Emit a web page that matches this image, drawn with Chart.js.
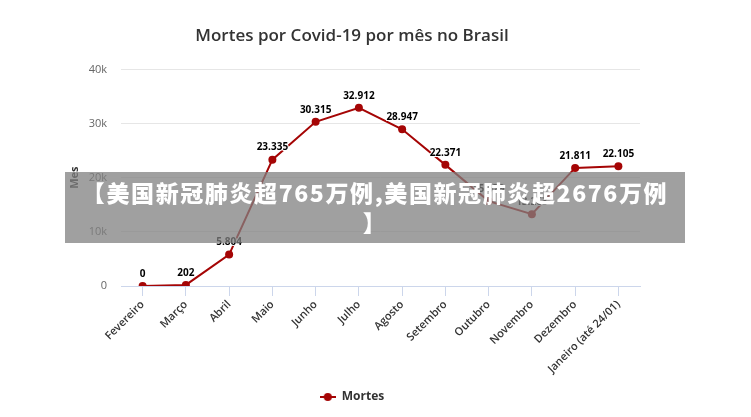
<!DOCTYPE html>
<html>
<head>
<meta charset="utf-8">
<script src="https://cdn.jsdelivr.net/npm/chart.js@4.4.1/dist/chart.umd.min.js"></script>
<style>
  html, body { margin: 0; padding: 0; background: #fff; }
  #wrap { position: relative; width: 751px; height: 417px; }
  #faixa {
    position: absolute; left: 65px; top: 172px; width: 620px; height: 71px;
    background: rgba(128, 128, 128, 0.75);
    color: #fff; font-family: "Noto Sans CJK SC", sans-serif; font-weight: 900;
    font-size: 23px; line-height: 30px; letter-spacing: 1.6px;
    text-align: center; padding-top: 5px; box-sizing: border-box;
  }
</style>
</head>
<body>
<div id="wrap">
  <canvas id="chart-mortes" width="751" height="417"></canvas>
  <div id="faixa">【美国新冠肺炎超765万例,美国新冠肺炎超2676万例<br>】</div>
</div>
<script>
// Dados
const meses = ['Fevereiro', 'Março', 'Abril', 'Maio', 'Junho', 'Julho', 'Agosto',
               'Setembro', 'Outubro', 'Novembro', 'Dezembro', 'Janeiro (até 24/01)'];
const mortes = [0, 202, 5804, 23335, 30315, 32912, 28947, 22371, 15679, 13263, 21811, 22105];
const ticksY = [0, 10000, 20000, 30000, 40000];

const vermelho = '#a50505';

// formata 23335 -> "23.335"
function formataPt(v) {
    return String(v).replace(/\B(?=(\d{3})+(?!\d))/g, '.');
}

// Símbolo da legenda: linha com bolinha
const simbolo = document.createElement('canvas');
simbolo.width = 16; simbolo.height = 10;
(function() {
    const c = simbolo.getContext('2d');
    c.strokeStyle = vermelho; c.lineWidth = 2;
    c.beginPath(); c.moveTo(0, 5); c.lineTo(16, 5); c.stroke();
    c.fillStyle = vermelho;
    c.beginPath(); c.arc(8, 5, 4, 0, Math.PI * 2); c.fill();
})();

// Rótulos de dados acima dos pontos
const rotulos = {
    id: 'rotulos',
    afterDatasetsDraw(chart) {
        const ctx = chart.ctx;
        const meta = chart.getDatasetMeta(0);
        ctx.save();
        ctx.font = 'bold 10px "Open Sans", sans-serif';
        ctx.textAlign = 'center';
        ctx.textBaseline = 'middle';
        ctx.lineJoin = 'round';
        meta.data.forEach((pt, i) => {
            const txt = formataPt(mortes[i]);
            ctx.strokeStyle = '#fff';
            ctx.lineWidth = 2;
            ctx.strokeText(txt, pt.x, pt.y - 12);
            ctx.fillStyle = '#000';
            ctx.fillText(txt, pt.x, pt.y - 12);
        });
        ctx.restore();
    }
};

new Chart(document.getElementById('chart-mortes'), {
    type: 'line',
    data: {
        labels: meses,
        datasets: [{
            label: 'Mortes',
            data: mortes,
            borderColor: vermelho,
            backgroundColor: vermelho,
            borderWidth: 2,
            pointRadius: 4,
            pointHoverRadius: 4,
            pointBackgroundColor: vermelho,
            pointBorderWidth: 0,
            tension: 0
        }]
    },
    options: {
        responsive: false,
        animation: false,
        layout: { padding: { left: 64, right: 111, top: 0, bottom: 4 } },
        plugins: {
            title: {
                display: true,
                text: 'Mortes por Covid-19 por mês no Brasil',
                color: '#333',
                font: { family: '"Open Sans", sans-serif', size: 17, weight: '600' },
                padding: { top: 26, bottom: 23 }
            },
            legend: {
                position: 'bottom',
                labels: {
                    usePointStyle: true,
                    pointStyle: simbolo,
                    pointStyleWidth: 16,
                    color: '#333',
                    font: { family: '"Open Sans", sans-serif', size: 12, weight: 'bold' },
                    padding: 10
                }
            },
            tooltip: { enabled: false }
        },
        scales: {
            x: {
                offset: true,
                afterFit: s => { s.height = 95; },
                grid: {
                    drawOnChartArea: false,
                    drawTicks: true,
                    tickLength: 10,
                    color: '#ccd6eb'
                },
                border: { color: '#ccd6eb', width: 1 },
                ticks: {
                    minRotation: 45,
                    maxRotation: 45,
                    autoSkip: false,
                    color: '#333',
                    padding: 2,
                    font: { family: '"Open Sans", sans-serif', size: 11, weight: '600' }
                }
            },
            y: {
                min: 0,
                max: 40000,
                afterFit: s => { s.width = 57; },
                afterBuildTicks: s => { s.ticks = ticksY.map(v => ({ value: v })); },
                title: {
                    display: true,
                    text: 'Mes',
                    color: '#333',
                    font: { family: '"Open Sans", sans-serif', size: 11, weight: 'bold' },
                    padding: { top: 4, bottom: 4 }
                },
                grid: { color: '#e6e6e6', drawTicks: false },
                border: { display: false },
                ticks: {
                    padding: 14,
                    color: '#666',
                    font: { family: '"Open Sans", sans-serif', size: 11 },
                    callback: v => v === 0 ? '0' : (v / 1000) + 'k'
                }
            }
        }
    },
    plugins: [rotulos]
});
</script>
</body>
</html>
